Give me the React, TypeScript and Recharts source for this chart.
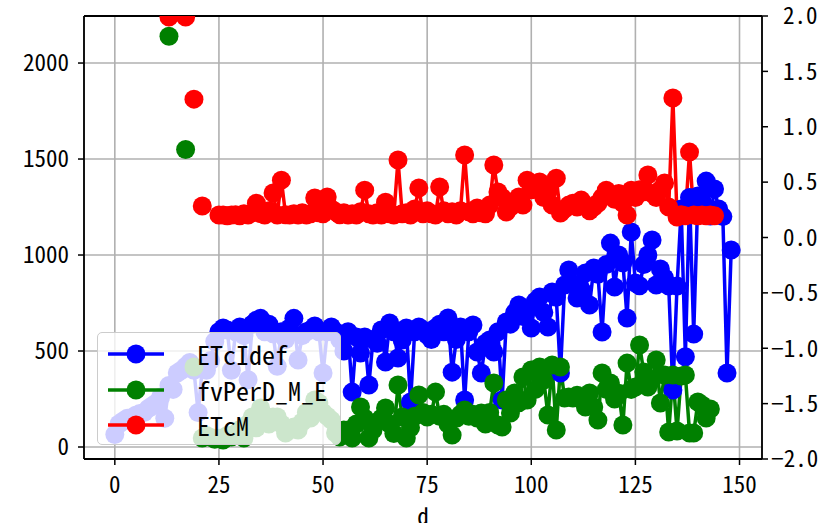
import React from 'react';
import {
  ComposedChart,
  Line,
  XAxis,
  YAxis,
  CartesianGrid,
  ReferenceLine,
} from 'recharts';

// day index 0..148 (null = no sample)
const ETcIdef = [
  65, 120, 135, 150, 150, 165, 175, 180, 200, 215, 230, 260, 150, 320, 300, 385, 400, 420, 440, 400,
  180, 410, 400, 450, 550, 600, 620, 610, 400, 600, 625, 580, 350, 640, 660, 670, 600, 640, 590, 420,
  600, 560, 620, 670, 453, 580, 600, 610, 630, 600, 385, 600, 625, 600, 560, 500, 600, 286, 573, 490,
  573, 323, 560, 540, 609, 443, 646, 600, 464, 557, 620, 234, 600, 625, 610, 583, 560, 620, 640, 600,
  672, 390, 560, 625, 245, 600, 635, 495, 385, 540, 557, 495, 600, 245, 651, 640, 700, 740, 680, 720,
  620, 760, 781, 700, 625, 807, 780, 385, 844, 922, 850, 776, 820, 906, 740, 932, 900, 599, 950, 1062,
  833, 1000, 960, 672, 1120, 854, 840, 950, 1000, 1078, 844, 927, 880, 838, 297, 838, 1240, 470, 1300, 588,
  1307, 1280, 1385, 1203, 1344, 1240, 1200, 385, 1026,
];

const fvPerD_M_E = [
  null, null, null, null, null, null, null, null, null, null, null, null, null, 2140, null, null, null, 1550, null, 417,
  null, 47, 60, 50, 40, 45, 36, 60, 52, 70, 90, 47, 120, 156, 100, 203, 150, 120, 156, 156,
  120, 73, 90, 104, 89, 130, 180, 151, 245, 229, 180, 160, 140, 73, 52, 89, 89, 47, 120, 208,
  150, 47, 89, 130, 150, 203, 120, 70, 323, 156, 47, 100, 160, 271, 180, 156, 170, 286, 160, 170,
  120, 62, 150, 170, 193, 160, 170, 151, 177, 120, 180, 333, 115, 104, 245, 177, 281, 230, 365, 245,
  401, 300, 417, 349, 167, 427, 89, 417, 255, 260, 255, 270, 255, 208, 281, 208, 140, 385, 300, 333,
  250, 280, 115, 437, 300, 312, 531, 391, 312, 350, 453, 229, 375, 78, 375, 83, 370, 375, 73, 73,
  234, 219, 151, 198, null, null, null, null, null,
];

const ETcM = [
  null, null, null, null, null, null, null, null, null, null, null, null, null, 2240, null, null, null, 2240, null, 1812,
  null, 1255, null, null, null, 1208, 1208, 1205, 1208, 1210, 1205, 1215, 1208, 1220, 1270, 1215, 1208, 1230, 1323, 1208,
  1390, 1210, 1208, 1215, 1208, 1220, 1208, 1215, 1297, 1220, 1215, 1302, 1240, 1225, 1210, 1220, 1208, 1215, 1208, 1225,
  1338, 1215, 1208, 1220, 1208, 1275, 1215, 1208, 1495, 1215, 1220, 1208, 1240, 1349, 1215, 1230, 1215, 1208, 1354, 1230,
  1215, 1225, 1208, 1230, 1521, 1225, 1215, 1245, 1220, 1215, 1260, 1469, 1328, 1300, 1224, 1250, 1280, 1302, 1260, 1390,
  1340, 1370, 1380, 1300, 1330, 1260, 1400, 1219, 1240, 1260, 1270, 1250, 1286, 1260, 1230, 1250, 1270, 1300, 1338, 1310,
  1290, 1320, 1270, 1208, 1338, 1300, 1340, 1330, 1417, 1320, 1300, 1340, 1375, 1250, 1818, 1198, 1210, 1205, 1536, 1208,
  1205, 1208, 1205, 1208, 1205, null, null, null, null,
];

const xTicks = [0, 25, 50, 75, 100, 125, 150];
const leftTicks = [0, 500, 1000, 1500, 2000];
const rightTicks = [-2, -1.5, -1, -0.5, 0, 0.5, 1, 1.5, 2];

const series = [
  { key: 'ETcIdef', color: '#0000ff' },
  { key: 'fvPerD_M_E', color: '#008000' },
  { key: 'ETcM', color: '#ff0000' },
];

const data = ETcIdef.map((v, i) => ({
  d: i,
  ETcIdef: v,
  fvPerD_M_E: fvPerD_M_E[i],
  ETcM: ETcM[i],
}));

const FONT = "'Noto Sans Mono CJK SC', 'Noto Sans CJK SC', sans-serif";
const Y_MIN = -62.5;
const Y_MAX = 2245;

const RightTick = (props: any) => {
  const { x, y, payload } = props;
  const v = payload.value;
  const label = (v < 0 ? '\u2212' : '') + Math.abs(v).toFixed(1);
  return (
    <text x={x + (v < 0 ? 0 : 12)} y={y} dy="0.36em" textAnchor="start" fontSize={23} fontFamily={FONT} fill="#000">
      {label}
    </text>
  );
};

export default function App() {
  return (
    <div style={{ position: 'fixed', left: 0, top: 0, width: 838, height: 523, background: '#fff' }}>
      <ComposedChart width={838} height={523} data={data} margin={{ top: 16, right: 0, bottom: 0, left: 0 }}>
        <CartesianGrid xAxisId="x" yAxisId="left" stroke="#b0b0b0" strokeWidth={1.6} ticks={leftTicks} />
        <XAxis
          xAxisId="x"
          dataKey="d"
          type="number"
          domain={[-7.4, 155.4]}
          ticks={xTicks}
          allowDataOverflow
          height={64}
          tickSize={6}
          tickMargin={12}
          axisLine={{ stroke: '#000', strokeWidth: 1.8 }}
          tickLine={{ stroke: '#000', strokeWidth: 1.5 }}
          tick={{ fontSize: 23, fill: '#000', fontFamily: FONT }}
          label={{ value: 'd', position: 'bottom', offset: -14, fontSize: 23, fill: '#000', fontFamily: FONT }}
        />
        <YAxis
          yAxisId="left"
          type="number"
          domain={[Y_MIN, Y_MAX]}
          ticks={leftTicks}
          allowDataOverflow
          width={84}
          tickSize={6}
          tickMargin={9}
          axisLine={{ stroke: '#000', strokeWidth: 1.8 }}
          tickLine={{ stroke: '#000', strokeWidth: 1.5 }}
          tick={{ fontSize: 23, fill: '#000', fontFamily: FONT }}
        />
        <YAxis
          yAxisId="right"
          orientation="right"
          type="number"
          domain={[-2, 2]}
          ticks={rightTicks}
          allowDataOverflow
          width={76}
          tickSize={6}
          tickMargin={3}
          axisLine={{ stroke: '#000', strokeWidth: 1.8 }}
          tickLine={{ stroke: '#000', strokeWidth: 1.5 }}
          tick={<RightTick />}
        />
        <ReferenceLine xAxisId="x" yAxisId="left" y={Y_MAX} stroke="#000" strokeWidth={1.8} ifOverflow="visible" />
        {series.map((s) => (
          <Line
            key={s.key}
            xAxisId="x"
            yAxisId="left"
            dataKey={s.key}
            stroke={s.color}
            strokeWidth={3.5}
            dot={{ r: 9.5, fill: s.color, stroke: 'none' }}
            activeDot={false}
            connectNulls={false}
            isAnimationActive={false}
          />
        ))}
      </ComposedChart>
      <div
        style={{
          position: 'absolute',
          left: 97,
          top: 332,
          width: 242,
          height: 111,
          border: '1.5px solid #cccccc',
          borderRadius: 5,
          background: 'rgba(255,255,255,0.8)',
          fontFamily: FONT,
          fontSize: 26,
        }}
      >
        {series.map((s, i) => (
          <div key={s.key} style={{ position: 'absolute', left: 9, top: 6 + i * 35.5, height: 30, display: 'flex', alignItems: 'center' }}>
            <svg width={60} height={30}>
              <line x1={1} y1={15} x2={57} y2={15} stroke={s.color} strokeWidth={3.5} />
              <circle cx={29} cy={15} r={9.5} fill={s.color} />
            </svg>
            <span style={{ marginLeft: 30, lineHeight: '30px', color: '#000' }}>{s.key}</span>
          </div>
        ))}
      </div>
    </div>
  );
}
